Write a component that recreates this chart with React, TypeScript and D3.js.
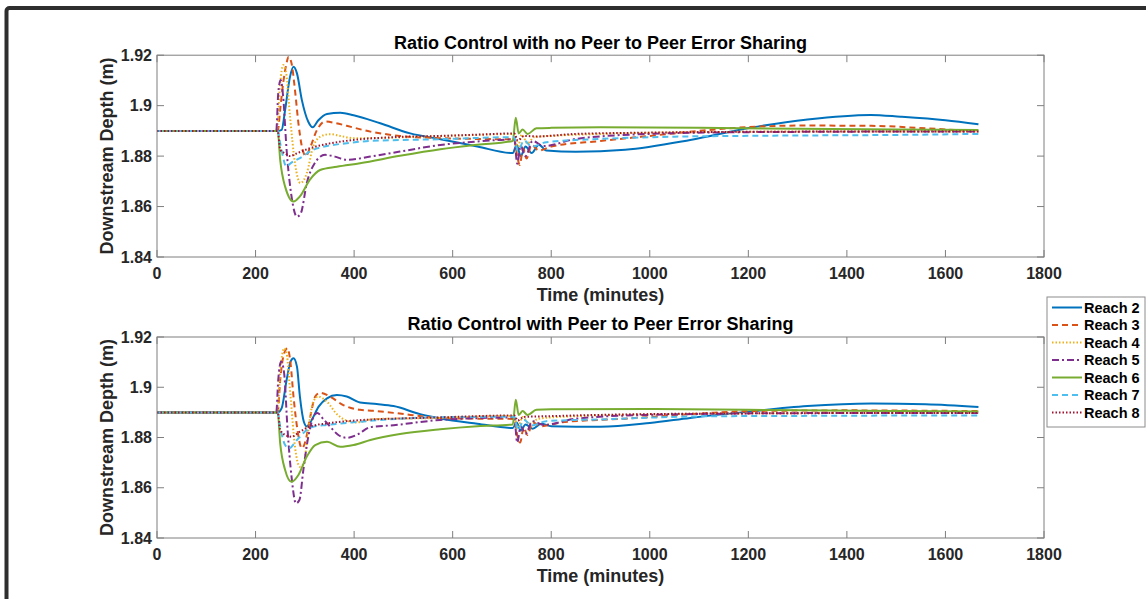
import React from 'react';
import { scaleLinear, line, curveMonotoneX } from 'd3';

const W = 1146;
const H = 599;

const seriesNames = ['Reach 2', 'Reach 3', 'Reach 4', 'Reach 5', 'Reach 6', 'Reach 7', 'Reach 8'];
const seriesColors = ['#0072BD', '#D95319', '#EDB120', '#7E2F8E', '#77AC30', '#4DBEEE', '#A2142F'];
const seriesDash = [null, '6,4', '1.5,2', '7,3,2,3', null, '6,4', '1.5,2'];

const xTicks = [0, 200, 400, 600, 800, 1000, 1200, 1400, 1600, 1800];
const yTicks = [1.84, 1.86, 1.88, 1.9, 1.92];
const yTickLabels = ['1.84', '1.86', '1.88', '1.9', '1.92'];

const titles = [
  'Ratio Control with no Peer to Peer Error Sharing',
  'Ratio Control with Peer to Peer Error Sharing',
];

// [time (min), depth (m)]
const topReach2 = [[0,1.89],[245,1.89],[253,1.8904],[260,1.8983],[270,1.9115],[277,1.9154],[284,1.9128],[294,1.9022],[307,1.8936],[316,1.8914],[327,1.8941],[345,1.8967],[372,1.8972],[399,1.8962],[453,1.893],[514,1.889],[575,1.8867],[650,1.8838],[722,1.8812],[730,1.8845],[738,1.88],[748,1.8838],[760,1.8812],[775,1.8845],[790,1.8822],[850,1.8817],[950,1.8825],[1082,1.8864],[1204,1.8912],[1320,1.8945],[1448,1.8963],[1509,1.8956],[1600,1.8942],[1667,1.8926]];
const topReach3 = [[0,1.89],[245,1.89],[250,1.8985],[256,1.9089],[262,1.916],[267,1.9194],[273,1.9168],[280,1.9062],[287,1.893],[294,1.8838],[302,1.88],[310,1.883],[324,1.8901],[341,1.8937],[360,1.8932],[385,1.892],[433,1.8897],[493,1.888],[575,1.8871],[650,1.8868],[725,1.8866],[731,1.88],[736,1.8765],[743,1.883],[750,1.879],[760,1.8845],[775,1.8822],[800,1.8838],[900,1.886],[1000,1.888],[1100,1.89],[1200,1.8915],[1300,1.8921],[1450,1.892],[1560,1.891],[1667,1.8898]];
const topReach4 = [[0,1.89],[243,1.89],[250,1.9089],[256,1.9161],[262,1.913],[270,1.8956],[280,1.8772],[291,1.8693],[304,1.8732],[317,1.8838],[334,1.888],[351,1.8887],[372,1.888],[399,1.8871],[450,1.8872],[550,1.8878],[650,1.8884],[725,1.8888],[732,1.883],[740,1.8885],[752,1.885],[765,1.8875],[800,1.888],[900,1.8888],[1100,1.8895],[1400,1.8898],[1667,1.8898]];
const topReach5 = [[0,1.89],[242,1.89],[246,1.9049],[251,1.9102],[256,1.9036],[263,1.8825],[273,1.864],[284,1.856],[292,1.8574],[304,1.8693],[320,1.8772],[341,1.8805],[361,1.8798],[385,1.8785],[433,1.8798],[493,1.8818],[575,1.8844],[650,1.8858],[725,1.8866],[731,1.877],[738,1.884],[748,1.88],[762,1.886],[785,1.884],[850,1.8868],[1000,1.8888],[1200,1.8895],[1667,1.8898]];
const topReach6 = [[0,1.89],[245,1.89],[250,1.8785],[260,1.8679],[277,1.862],[290,1.864],[310,1.8706],[331,1.8745],[365,1.8758],[412,1.8772],[493,1.8801],[575,1.8827],[650,1.8845],[722,1.886],[728,1.8952],[734,1.889],[742,1.8905],[752,1.8888],[770,1.891],[800,1.8912],[900,1.8914],[1100,1.8912],[1300,1.8908],[1667,1.8903]];
const topReach7 = [[0,1.89],[245,1.89],[250,1.8851],[263,1.8758],[270,1.877],[290,1.8792],[317,1.8825],[345,1.884],[385,1.8851],[433,1.886],[575,1.8867],[650,1.8872],[725,1.8875],[732,1.882],[745,1.8862],[760,1.8838],[790,1.8855],[900,1.8868],[1050,1.8877],[1250,1.8881],[1500,1.8884],[1667,1.8888]];
const topReach8 = [[0,1.89],[245,1.89],[250,1.8825],[260,1.8811],[270,1.88],[284,1.8811],[310,1.8831],[345,1.8848],[399,1.8864],[480,1.8875],[575,1.888],[650,1.8885],[725,1.889],[732,1.8862],[745,1.888],[770,1.8878],[850,1.8888],[1000,1.8893],[1300,1.8897],[1667,1.8898]];

const botReach2 = [[0,1.89],[245,1.89],[253,1.8917],[263,1.9029],[271,1.9102],[277,1.9115],[284,1.9082],[290,1.8963],[298,1.8863],[304,1.8844],[314,1.887],[328,1.8923],[345,1.8956],[365,1.8969],[385,1.8963],[412,1.8939],[446,1.8933],[480,1.8925],[534,1.8893],[575,1.8876],[650,1.8855],[722,1.8838],[730,1.886],[738,1.8828],[748,1.8852],[762,1.8835],[780,1.8855],[800,1.8845],[900,1.8843],[1000,1.8858],[1082,1.8878],[1200,1.8903],[1320,1.8925],[1450,1.8935],[1560,1.8932],[1667,1.8921]];
const botReach3 = [[0,1.89],[245,1.89],[250,1.9029],[258,1.9135],[265,1.9155],[271,1.9095],[277,1.8963],[284,1.8844],[294,1.8757],[300,1.8777],[311,1.8883],[321,1.8963],[331,1.8978],[351,1.8963],[378,1.8929],[412,1.891],[439,1.8906],[480,1.8898],[575,1.8878],[650,1.8875],[725,1.8874],[731,1.881],[737,1.878],[744,1.884],[752,1.881],[762,1.886],[780,1.8845],[820,1.886],[950,1.8875],[1100,1.8895],[1200,1.8905],[1400,1.8908],[1667,1.8905]];
const botReach4 = [[0,1.89],[244,1.89],[251,1.9082],[258,1.9155],[263,1.9135],[271,1.8963],[280,1.8763],[290,1.8684],[298,1.8697],[307,1.883],[317,1.8942],[327,1.8963],[345,1.8942],[365,1.8893],[385,1.8867],[405,1.886],[439,1.8873],[575,1.8878],[650,1.8883],[725,1.8886],[732,1.8835],[742,1.8882],[755,1.8855],[775,1.8875],[850,1.8885],[1000,1.8892],[1300,1.8897],[1667,1.8898]];
const botReach5 = [[0,1.89],[242,1.89],[246,1.9029],[252,1.9102],[258,1.9056],[265,1.883],[273,1.8644],[282,1.8538],[289,1.8551],[297,1.8671],[307,1.8803],[317,1.888],[325,1.8898],[338,1.8872],[351,1.8844],[368,1.881],[385,1.8799],[405,1.881],[433,1.8841],[480,1.8849],[575,1.887],[650,1.8877],[725,1.888],[731,1.878],[738,1.8845],[748,1.8815],[762,1.8865],[785,1.885],[850,1.8875],[1000,1.889],[1300,1.8897],[1667,1.8898]];
const botReach6 = [[0,1.89],[245,1.89],[250,1.8777],[260,1.8671],[273,1.8624],[287,1.8651],[304,1.8724],[321,1.877],[345,1.8783],[372,1.8763],[399,1.877],[433,1.879],[493,1.8814],[575,1.8833],[650,1.8845],[722,1.8852],[728,1.895],[734,1.889],[742,1.8905],[752,1.889],[770,1.891],[800,1.8912],[1000,1.8913],[1300,1.8908],[1667,1.8903]];
const botReach7 = [[0,1.89],[245,1.89],[250,1.8843],[260,1.877],[268,1.8757],[284,1.879],[304,1.883],[317,1.8843],[345,1.885],[412,1.8863],[575,1.8881],[650,1.8882],[725,1.8883],[732,1.883],[745,1.887],[760,1.8848],[790,1.8865],[900,1.8872],[1100,1.8884],[1300,1.8886],[1667,1.8888]];
const botReach8 = [[0,1.89],[245,1.89],[250,1.883],[260,1.881],[273,1.8803],[290,1.8823],[311,1.8844],[345,1.8856],[412,1.8869],[575,1.888],[650,1.8885],[725,1.8888],[732,1.8868],[745,1.8882],[800,1.8885],[900,1.889],[1200,1.8896],[1667,1.8898]];

const topSeries = [topReach2, topReach3, topReach4, topReach5, topReach6, topReach7, topReach8];
const botSeries = [botReach2, botReach3, botReach4, botReach5, botReach6, botReach7, botReach8];

const font = "'Liberation Sans', Arial, Helvetica, sans-serif";
const axisColor = '#7f7f7f';
const textColor = '#262626';

const plotLeft = 157;
const plotRight = 1044;

const Panel = ({ top, bottom, title, series }) => {
  const x = scaleLinear().domain([0, 1800]).range([plotLeft, plotRight]);
  const y = scaleLinear().domain([1.84, 1.92]).range([bottom, top]);
  const path = line().x(d => x(d[0])).y(d => y(d[1])).curve(curveMonotoneX);
  const tickLen = 7;

  return (
    <g>
      <rect x={plotLeft} y={top} width={plotRight - plotLeft} height={bottom - top} fill='white' />
      {series.map((s, i) => (
        <path
          key={i}
          d={path(s)}
          fill='none'
          stroke={seriesColors[i]}
          strokeWidth={2}
          strokeDasharray={seriesDash[i] || undefined}
        />
      ))}
      <rect x={plotLeft} y={top} width={plotRight - plotLeft} height={bottom - top} fill='none' stroke={axisColor} strokeWidth={1} />
      {xTicks.map(t => (
        <g key={t}>
          <line x1={x(t)} x2={x(t)} y1={bottom} y2={bottom - tickLen} stroke={axisColor} />
          <line x1={x(t)} x2={x(t)} y1={top} y2={top + tickLen} stroke={axisColor} />
          <text x={x(t)} y={bottom + 16} dy='.35em' textAnchor='middle' fontSize={16} fontWeight='bold' fill={textColor}>
            {t}
          </text>
        </g>
      ))}
      {yTicks.map((t, i) => (
        <g key={t}>
          <line x1={plotLeft} x2={plotLeft + tickLen} y1={y(t)} y2={y(t)} stroke={axisColor} />
          <line x1={plotRight} x2={plotRight - tickLen} y1={y(t)} y2={y(t)} stroke={axisColor} />
          <text x={plotLeft - 5} y={y(t)} dy='.35em' textAnchor='end' fontSize={16} fontWeight='bold' fill={textColor}>
            {yTickLabels[i]}
          </text>
        </g>
      ))}
      <text x={(plotLeft + plotRight) / 2 + 0} y={top - 13} textAnchor='middle' dy='.35em' fontSize={18} fontWeight='bold' fill='black'>
        {title}
      </text>
      <text x={(plotLeft + plotRight) / 2 + 0} y={bottom + 38} textAnchor='middle' dy='.35em' fontSize={18} fontWeight='bold' fill={textColor}>
        Time (minutes)
      </text>
      <text
        transform={`translate(107, ${(top + bottom) / 2}) rotate(-90)`}
        textAnchor='middle'
        dy='.35em'
        fontSize={18}
        fontWeight='bold'
        fill={textColor}>
        Downstream Depth (m)
      </text>
    </g>
  );
};

export default function App() {
  const legendX = 1047;
  const legendY = 297;
  const rowH = 17.5;
  return (
    <svg width={W} height={H} style={{ position: 'fixed', left: 0, top: 0, fontFamily: font }}>
      <rect x={0} y={0} width={W} height={H} fill='white' />
      <rect x={6.5} y={8} width={W + 20} height={H + 20} rx={3} fill='white' stroke='#2e2e2e' strokeWidth={4} />
      <Panel top={55.2} bottom={257} title={titles[0]} series={topSeries} />
      <Panel top={337} bottom={538} title={titles[1]} series={botSeries} />
      <g>
        <rect x={legendX} y={legendY} width={98} height={130} fill='white' stroke='#8c8c8c' strokeWidth={1} />
        {seriesNames.map((n, i) => {
          const cy = legendY + 10.5 + i * rowH;
          return (
            <g key={n}>
              <line
                x1={legendX + 5}
                x2={legendX + 35}
                y1={cy}
                y2={cy}
                stroke={seriesColors[i]}
                strokeWidth={2}
                strokeDasharray={seriesDash[i] || undefined}
              />
              <text x={legendX + 37} y={cy} dy='.35em' fontSize={14.5} fontWeight='bold' fill='black'>
                {n}
              </text>
            </g>
          );
        })}
      </g>
    </svg>
  );
}
